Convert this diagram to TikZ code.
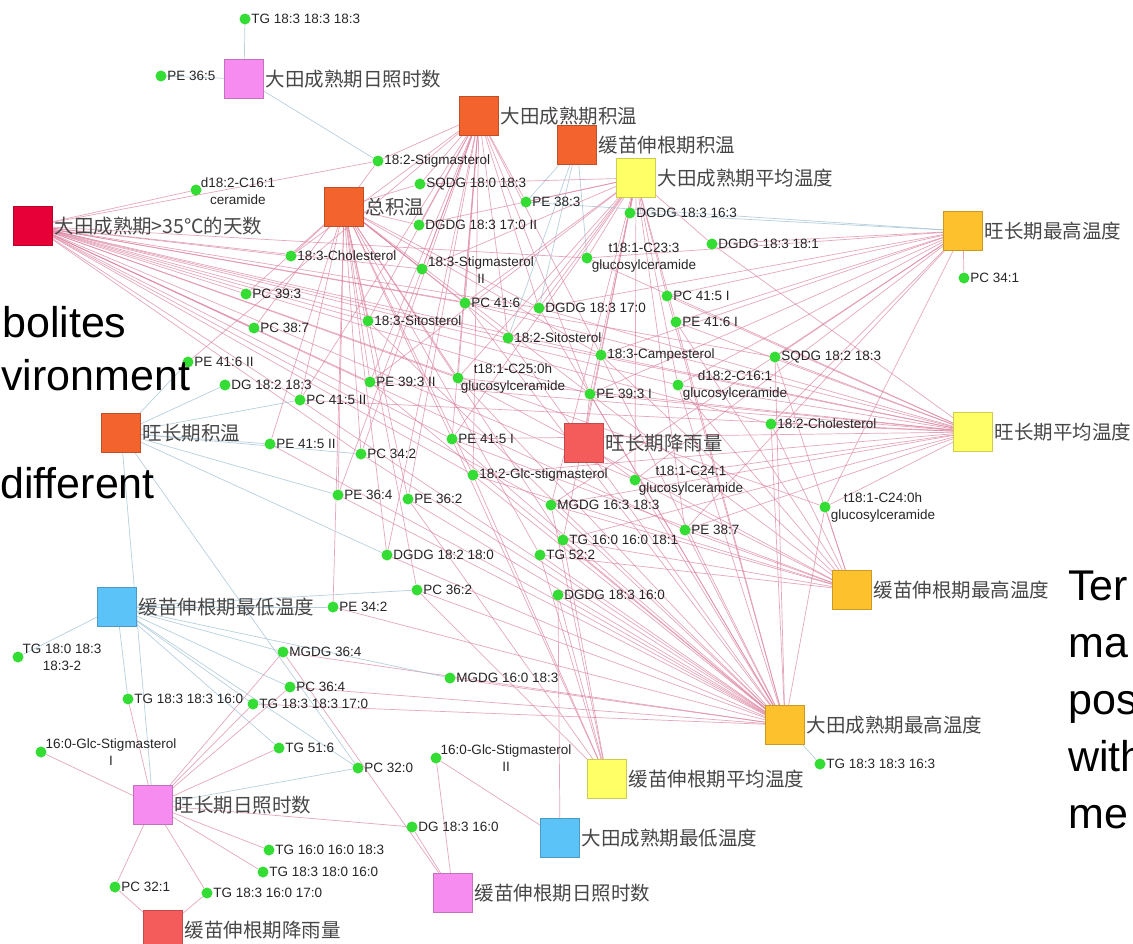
\documentclass[tikz,border=0pt]{standalone}
\usepackage{fontspec}
\setmainfont{Liberation Sans}
\newfontfamily\cjkfont{Noto Sans CJK SC}
\pgfdeclarelayer{edges}
\pgfsetlayers{edges,main}
\definecolor{cpink}{RGB}{247,140,240}
\definecolor{corange}{RGB}{243,99,45}
\definecolor{ccrimson}{RGB}{230,0,55}
\definecolor{cyellow}{RGB}{255,255,102}
\definecolor{cgold}{RGB}{252,193,44}
\definecolor{clred}{RGB}{244,92,92}
\definecolor{cblue}{RGB}{92,195,248}
\definecolor{cgreen}{RGB}{51,221,51}
\definecolor{cedge}{RGB}{220,130,160}
\definecolor{cbedge}{RGB}{160,192,212}
\tikzset{
  sq/.style={draw=#1!80!black, fill=#1, minimum size=39pt, inner sep=0pt, line width=0.6pt},
  hl/.style={font=\cjkfont\fontsize{19.5}{21}\selectfont, text=black!72, inner sep=1.5pt},
  met/.style={circle, fill=cgreen, minimum size=11pt, inner sep=0pt},
  ml/.style={font=\fontsize{13.5}{17}\selectfont, text=black!85, inner sep=0.5pt},
  pe/.style={draw=cedge, line width=0.7pt, opacity=0.7},
  be/.style={draw=cbedge, line width=0.7pt, opacity=0.75},
  big/.style={font=\fontsize{43}{50}\selectfont, inner sep=0pt, anchor=base west}
}
\begin{document}
\begin{tikzpicture}[x=1pt,y=-1pt]
\useasboundingbox (0,0) rectangle (1133,943);

% ---------- hubs ----------
\node[sq=cpink, label={[hl,name=S1l]right:大田成熟期日照时数}] (S1) at (244,79) {};
\node[sq=corange, label={[hl,name=S2l]right:大田成熟期积温}] (S2) at (479,116) {};
\node[sq=corange, label={[hl,name=S3l]right:缓苗伸根期积温}] (S3) at (577,145) {};
\node[sq=cyellow, label={[hl,name=S4l]right:大田成熟期平均温度}] (S4) at (636,178) {};
\node[sq=cgold, label={[hl,name=S5l]right:旺长期最高温度}] (S5) at (963,231) {};
\node[sq=corange, label={[hl,name=S6l]right:总积温}] (S6) at (344,207) {};
\node[sq=ccrimson, label={[hl,name=S7l]right:大田成熟期>35℃的天数}] (S7) at (33,226) {};
\node[sq=corange, label={[hl,name=S8l]right:旺长期积温}] (S8) at (121,433) {};
\node[sq=clred, label={[hl,name=S9l]right:旺长期降雨量}] (S9) at (584,443) {};
\node[sq=cyellow, label={[hl,name=S10l]right:旺长期平均温度}] (S10) at (973,432) {};
\node[sq=cgold, label={[hl,name=S11l]right:缓苗伸根期最高温度}] (S11) at (852,590) {};
\node[sq=cblue, label={[hl,name=S12l]right:缓苗伸根期最低温度}] (S12) at (117,607) {};
\node[sq=cgold, label={[hl,name=S13l]right:大田成熟期最高温度}] (S13) at (785,725) {};
\node[sq=cyellow, label={[hl,name=S14l]right:缓苗伸根期平均温度}] (S14) at (607,779) {};
\node[sq=cpink, label={[hl,name=S15l]right:旺长期日照时数}] (S15) at (153,805) {};
\node[sq=cblue, label={[hl,name=S16l]right:大田成熟期最低温度}] (S16) at (560,838) {};
\node[sq=cpink, label={[hl,name=S17l]right:缓苗伸根期日照时数}] (S17) at (453,893) {};
\node[sq=clred, label={[hl,name=S18l]right:缓苗伸根期降雨量}] (S18) at (163,930) {};

% ---------- metabolites ----------
\node[met, label={[ml,name=m1l]right:TG 18:3 18:3 18:3}] (m1) at (245,19) {};
\node[met, label={[ml,name=m2l]right:PE 36:5}] (m2) at (161,76) {};
\node[met, label={[ml,name=m3l]right:18:2-Stigmasterol}] (m3) at (378,161) {};
\node[met] (m4) at (196,190) {};
\node[ml, align=center] (m4l) at (238,191) {d18:2-C16:1\\ceramide};
\node[met, label={[ml,name=m5l]right:SQDG 18:0 18:3}] (m5) at (420,184) {};
\node[met, label={[ml,name=m6l]right:PE 38:3}] (m6) at (526,202) {};
\node[met, label={[ml,name=m7l]right:DGDG 18:3 17:0 II}] (m7) at (419,225) {};
\node[met, label={[ml,name=m8l]right:DGDG 18:3 16:3}] (m8) at (630,213) {};
\node[met, label={[ml,name=m9l]right:DGDG 18:3 18:1}] (m9) at (712,244) {};
\node[met] (m10) at (587,258) {};
\node[ml, align=center] (m10l) at (644,258) {t18:1-C23:3\\glucosylceramide};
\node[met, label={[ml,name=m11l]right:18:3-Cholesterol}] (m11) at (291,256) {};
\node[met] (m12) at (422,269) {};
\node[ml, align=center] (m12l) at (481,270) {18:3-Stigmasterol\\II};
\node[met, label={[ml,name=m13l]right:PC 39:3}] (m13) at (246,294) {};
\node[met, label={[ml,name=m14l]right:PC 41:6}] (m14) at (465,303) {};
\node[met, label={[ml,name=m15l]right:DGDG 18:3 17:0}] (m15) at (539,308) {};
\node[met, label={[ml,name=m16l]right:PC 41:5 I}] (m16) at (667,296) {};
\node[met, label={[ml,name=m17l]right:PC 34:1}] (m17) at (964,278) {};
\node[met, label={[ml,name=m18l]right:PC 38:7}] (m18) at (254,328) {};
\node[met, label={[ml,name=m19l]right:18:3-Sitosterol}] (m19) at (368,321) {};
\node[met, label={[ml,name=m20l]right:PE 41:6 I}] (m20) at (676,322) {};
\node[met, label={[ml,name=m21l]right:18:2-Sitosterol}] (m21) at (508,338) {};
\node[met, label={[ml,name=m22l]right:18:3-Campesterol}] (m22) at (601,355) {};
\node[met, label={[ml,name=m23l]right:SQDG 18:2 18:3}] (m23) at (775,357) {};
\node[met, label={[ml,name=m24l]right:PE 41:6 II}] (m24) at (188,362) {};
\node[met, label={[ml,name=m25l]right:DG 18:2 18:3}] (m25) at (225,385) {};
\node[met, label={[ml,name=m26l]right:PE 39:3 II}] (m26) at (370,382) {};
\node[met] (m27) at (458,378) {};
\node[ml, align=center] (m27l) at (513,379) {t18:1-C25:0h\\glucosylceramide};
\node[met, label={[ml,name=m28l]right:PE 39:3 I}] (m28) at (590,394) {};
\node[met] (m29) at (678,385) {};
\node[ml, align=center] (m29l) at (735,386) {d18:2-C16:1\\glucosylceramide};
\node[met, label={[ml,name=m30l]right:PC 41:5 II}] (m30) at (300,400) {};
\node[met, label={[ml,name=m31l]right:18:2-Cholesterol}] (m31) at (771,424) {};
\node[met, label={[ml,name=m32l]right:PE 41:5 II}] (m32) at (270,444) {};
\node[met, label={[ml,name=m33l]right:PE 41:5 I}] (m33) at (452,439) {};
\node[met, label={[ml,name=m34l]right:PC 34:2}] (m34) at (361,454) {};
\node[met, label={[ml,name=m35l]right:18:2-Glc-stigmasterol}] (m35) at (473,475) {};
\node[met] (m36) at (635,480) {};
\node[ml, align=center] (m36l) at (691,481) {t18:1-C24:1\\glucosylceramide};
\node[met, label={[ml,name=m37l]right:PE 36:4}] (m37) at (338,495) {};
\node[met, label={[ml,name=m38l]right:PE 36:2}] (m38) at (408,499) {};
\node[met, label={[ml,name=m39l]right:MGDG 16:3 18:3}] (m39) at (551,505) {};
\node[met] (m40) at (825,507) {};
\node[ml, align=center] (m40l) at (883,508) {t18:1-C24:0h\\glucosylceramide};
\node[met, label={[ml,name=m41l]right:PE 38:7}] (m41) at (685,530) {};
\node[met, label={[ml,name=m42l]right:TG 16:0 16:0 18:1}] (m42) at (563,540) {};
\node[met, label={[ml,name=m43l]right:DGDG 18:2 18:0}] (m43) at (387,555) {};
\node[met, label={[ml,name=m44l]right:TG 52:2}] (m44) at (540,555) {};
\node[met, label={[ml,name=m45l]right:PC 36:2}] (m45) at (417,590) {};
\node[met, label={[ml,name=m46l]right:DGDG 18:3 16:0}] (m46) at (558,595) {};
\node[met, label={[ml,name=m47l]right:PE 34:2}] (m47) at (333,607) {};
\node[met] (m48) at (18,657) {};
\node[ml, align=center] (m48l) at (62,657) {TG 18:0 18:3\\18:3-2};
\node[met, label={[ml,name=m49l]right:MGDG 36:4}] (m49) at (283,652) {};
\node[met, label={[ml,name=m50l]right:MGDG 16:0 18:3}] (m50) at (450,678) {};
\node[met, label={[ml,name=m51l]right:PC 36:4}] (m51) at (290,687) {};
\node[met, label={[ml,name=m52l]right:TG 18:3 18:3 16:0}] (m52) at (128,699) {};
\node[met, label={[ml,name=m53l]right:TG 18:3 18:3 17:0}] (m53) at (253,704) {};
\node[met] (m54) at (41,752) {};
\node[ml, align=center] (m54l) at (111,752) {16:0-Glc-Stigmasterol\\I};
\node[met, label={[ml,name=m55l]right:TG 51:6}] (m55) at (279,748) {};
\node[met] (m56) at (436,758) {};
\node[ml, align=center] (m56l) at (506,758) {16:0-Glc-Stigmasterol\\II};
\node[met, label={[ml,name=m57l]right:PC 32:0}] (m57) at (358,768) {};
\node[met, label={[ml,name=m58l]right:TG 18:3 18:3 16:3}] (m58) at (820,764) {};
\node[met, label={[ml,name=m59l]right:DG 18:3 16:0}] (m59) at (412,827) {};
\node[met, label={[ml,name=m60l]right:TG 16:0 16:0 18:3}] (m60) at (269,850) {};
\node[met, label={[ml,name=m61l]right:TG 18:3 18:0 16:0}] (m61) at (263,872) {};
\node[met, label={[ml,name=m62l]right:PC 32:1}] (m62) at (115,887) {};
\node[met, label={[ml,name=m63l]right:TG 18:3 16:0 17:0}] (m63) at (207,893) {};

% ---------- slide text fragments ----------
\node[big] (t1) at (2,337) {bolites};
\node[big] (t2) at (1,390) {vironment};
\node[big] (t3) at (0,498) {different};
\node[big] (t4) at (1068,600) {Ter};
\node[big] (t5) at (1068,657) {ma};
\node[big] (t6) at (1068,714) {pos};
\node[big] (t7) at (1068,771) {with};
\node[big] (t8) at (1068,828) {me};

% ---------- edges ----------
\begin{pgfonlayer}{edges}
\fill[white] (0,0) rectangle (1133,943);
\foreach \m in {m1,m2,m3} \draw[be] (S1) -- (\m);
\foreach \m in {m4,m3,m11,m13,m18,m19,m12,m14,m21,m15,m22,m10,m29,m31,m23,m28,m27,m26,m30,m33,m34,m35,m36,m39,m41,m40}
  \draw[pe] (S7) -- (\m);
\foreach \m in {m3,m5,m7,m11,m12,m13,m18,m19,m14,m21,m26,m27,m30,m32,m33,m34,m35,m37,m38,m43,m44,m42,m45,m47,m15,m22,m28}
  \draw[pe] (S6) -- (\m);
\foreach \m in {m3,m5,m6,m7,m12,m14,m15,m19,m21,m22,m27,m28,m33,m35,m38,m43,m11,m26,m34,m37,m24,m30}
  \draw[pe] (S2) -- (\m);
\foreach \m in {m6,m10,m15,m21} \draw[be] (S3) -- (\m);
\foreach \m in {m5,m6,m7,m8,m10,m12,m14,m15,m16,m20,m21,m22,m26,m27,m28,m29,m36,m39,m41,m42,m9,m33}
  \draw[pe] (S4) -- (\m);
\foreach \m in {m17,m9,m16,m20,m29,m23,m22,m31,m40,m28,m10,m41,m36,m15,m39}
  \draw[pe] (S5) -- (\m);
\foreach \m in {m8,m6} \draw[be] (S5) -- (\m);
\foreach \m in {m23,m31,m29,m20,m16,m22,m28,m36,m40,m41,m39,m33,m27,m26,m30,m21,m15,m14,m9,m10,m35,m42}
  \draw[pe] (S10) -- (\m);
\foreach \m in {m40,m31,m23,m36,m41,m39,m29,m22,m28,m33,m35,m27,m42,m44,m20}
  \draw[pe] (S11) -- (\m);
\foreach \m in {m40,m41,m36,m31,m29,m22,m28,m21,m27,m35,m33,m39,m42,m44,m46,m38,m34,m37,m26,m19,m30,m32,m43,m45,m47,m50,m14,m15,m16,m20,m23,m49,m51,m53}
  \draw[pe] (S13) -- (\m);
\draw[be] (S13) -- (m58);
\foreach \m in {m28,m36,m22} \draw[pe] (S9) -- (\m);
\foreach \m in {m44,m46,m42,m39,m38,m35,m33,m45} \draw[pe] (S14) -- (\m);
\foreach \m in {m46,m56} \draw[pe] (S16) -- (\m);
\foreach \m in {m59,m56,m49} \draw[pe] (S17) -- (\m);
\foreach \m in {m52,m54,m55,m60,m61,m62,m63,m49,m51,m59,m53} \draw[pe] (S15) -- (\m);
\draw[be] (S15) -- (m57);
\draw[be] (S15) -- (S8);
\foreach \m in {m48,m49,m51,m53,m55,m57,m50,m52,m47,m45} \draw[be] (S12) -- (\m);
\foreach \m in {m25,m30,m32,m37,m24,m57,m43,m34} \draw[be] (S8) -- (\m);
\foreach \m in {m62,m63} \draw[pe] (S18) -- (\m);
\end{pgfonlayer}
\end{tikzpicture}
\end{document}
